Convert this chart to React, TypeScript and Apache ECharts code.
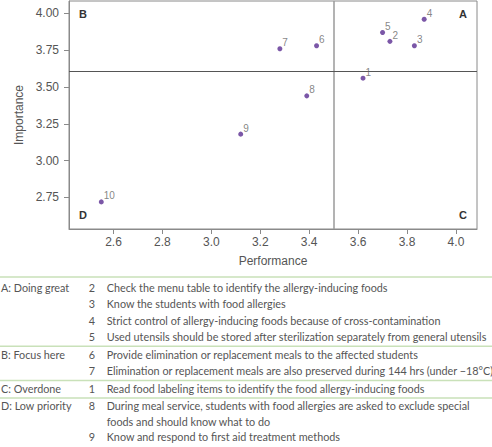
import React, { useEffect, useRef } from "react";
import * as echarts from "echarts";

const pointIds = ["1", "2", "3", "4", "5", "6", "7", "8", "9", "10"];
const performance = [3.62, 3.73, 3.83, 3.87, 3.7, 3.43, 3.28, 3.39, 3.12, 2.55];
const importance = [3.56, 3.81, 3.78, 3.96, 3.87, 3.78, 3.76, 3.44, 3.18, 2.72];
const xTicks = [2.6, 2.8, 3.0, 3.2, 3.4, 3.6, 3.8, 4.0];
const yTicks = [2.75, 3.0, 3.25, 3.5, 3.75, 4.0];
const xRange = [2.418, 4.086];
const yRange = [2.536, 4.084];
const performanceCut = 3.5;
const importanceCut = 3.61;
const quadrantLetters = ["B", "A", "D", "C"];

const tableGroups = ["A: Doing great", "B: Focus here", "C: Overdone", "D: Low priority"];
const tableNumbers = [[2, 3, 4, 5], [6, 7], [1], [8, 9]];
const tableTexts = [
  [
    "Check the menu table to identify the allergy-inducing foods",
    "Know the students with food allergies",
    "Strict control of allergy-inducing foods because of cross-contamination",
    "Used utensils should be stored after sterilization separately from general utensils",
  ],
  [
    "Provide elimination or replacement meals to the affected students",
    "Elimination or replacement meals are also preserved during 144 hrs (under \u221218\u00b0C)",
  ],
  ["Read food labeling items to identify the food allergy-inducing foods"],
  [
    "During meal service, students with food allergies are asked to exclude special\nfoods and should know what to do",
    "Know and respond to first aid treatment methods",
  ],
];

const AXIS_FONT = "Liberation Sans";
const TABLE_FONT = "Lato";
const TABLE_SIZE = 10.8;

export default function App() {
  const ref = useRef<HTMLDivElement>(null);

  useEffect(() => {
    const chart = echarts.init(ref.current!, null, { renderer: "svg" });

    const grid = { left: 69, top: 1, width: 408, height: 228 };
    const graphics: any[] = [];
    const tFont = `${TABLE_SIZE}px "${TABLE_FONT}"`;

    // quadrant letters
    const qPos = [
      [grid.left + 10, grid.top + 13, "left"],
      [grid.left + grid.width - 10, grid.top + 13, "right"],
      [grid.left + 10, grid.top + grid.height - 14, "left"],
      [grid.left + grid.width - 10, grid.top + grid.height - 14, "right"],
    ];
    quadrantLetters.forEach((l, i) => {
      graphics.push({
        type: "text",
        x: qPos[i][0],
        y: qPos[i][1],
        style: {
          text: l,
          font: `bold 11px "${AXIS_FONT}"`,
          fill: "#333",
          align: qPos[i][2],
          verticalAlign: "middle",
        },
      });
    });

    // table
    let y = 287;
    const pitch = 16.6;
    const groupGap = 0.9;
    const wrapPitch = 15.2;
    tableGroups.forEach((g, gi) => {
      const ly = y - (gi === 0 ? 10 : 8);
      graphics.push({
        type: "line",
        shape: { x1: 0, y1: ly, x2: 492, y2: ly },
        style: { stroke: "#c9e1b9", lineWidth: 1.5 },
      });
      graphics.push({
        type: "text",
        x: 1,
        y,
        style: { text: g, font: tFont, fill: "#555", verticalAlign: "middle" },
      });
      const isD = gi === tableGroups.length - 1;
      tableNumbers[gi].forEach((n, ri) => {
        graphics.push({
          type: "text",
          x: 95,
          y,
          style: { text: String(n), font: tFont, fill: "#555", align: "right", verticalAlign: "middle" },
        });
        const lines = tableTexts[gi][ri].split("\n");
        lines.forEach((t, li) => {
          graphics.push({
            type: "text",
            x: 106.7,
            y: y + li * wrapPitch,
            style: { text: t, font: tFont, fill: "#555", verticalAlign: "middle" },
          });
        });
        y += (lines.length - 1) * wrapPitch + (isD ? wrapPitch : pitch);
      });
      y += groupGap;
    });

    chart.setOption({
      animation: false,
      grid: { ...grid, show: true, borderColor: "#8a8a8a", borderWidth: 1, backgroundColor: "transparent" },
      xAxis: {
        type: "value",
        min: xRange[0],
        max: xRange[1],
        name: "Performance",
        nameLocation: "middle",
        nameGap: 26,
        nameTextStyle: { fontFamily: AXIS_FONT, fontSize: 12, color: "#555" },
        axisLine: { show: true, lineStyle: { color: "#8a8a8a" } },
        axisTick: { show: true, length: 5, lineStyle: { color: "#8a8a8a" }, customValues: xTicks },
        axisLabel: {
          customValues: xTicks,
          formatter: (v: number) => v.toFixed(1),
          fontFamily: AXIS_FONT,
          fontSize: 12,
          color: "#555",
          margin: 7,
        },
        splitLine: { show: false },
      },
      yAxis: {
        type: "value",
        min: yRange[0],
        max: yRange[1],
        name: "Importance",
        nameLocation: "middle",
        nameGap: 38,
        nameTextStyle: { fontFamily: AXIS_FONT, fontSize: 12, color: "#555" },
        axisLine: { show: true, lineStyle: { color: "#8a8a8a" } },
        axisTick: { show: true, length: 5, lineStyle: { color: "#8a8a8a" }, customValues: yTicks },
        axisLabel: {
          customValues: yTicks,
          formatter: (v: number) => v.toFixed(2),
          fontFamily: AXIS_FONT,
          fontSize: 12,
          color: "#555",
          margin: 10,
        },
        splitLine: { show: false },
      },
      series: [
        {
          type: "scatter",
          symbolSize: 5,
          itemStyle: { color: "#5a2d91" },
          data: performance.map((p, i) => ({ name: pointIds[i], value: [p, importance[i]] })),
          label: {
            show: true,
            formatter: (p: any) => p.name,
            position: "right",
            distance: 0,
            offset: [0, -6],
            fontFamily: AXIS_FONT,
            fontSize: 10,
            color: "#666",
          },
          markLine: {
            silent: true,
            symbol: ["none", "none"],
            label: { show: false },
            data: [
              { xAxis: performanceCut, lineStyle: { color: "#9a9a9a", width: 1.5, type: "solid" } },
              { yAxis: importanceCut, lineStyle: { color: "#555", width: 1, type: "solid" } },
            ],
          },
        },
      ],
      graphic: graphics,
    });

    return () => chart.dispose();
  }, []);

  return (
    <div
      ref={ref}
      style={{ position: "absolute", left: 0, top: 0, width: 492, height: 447, background: "#fff" }}
    />
  );
}
